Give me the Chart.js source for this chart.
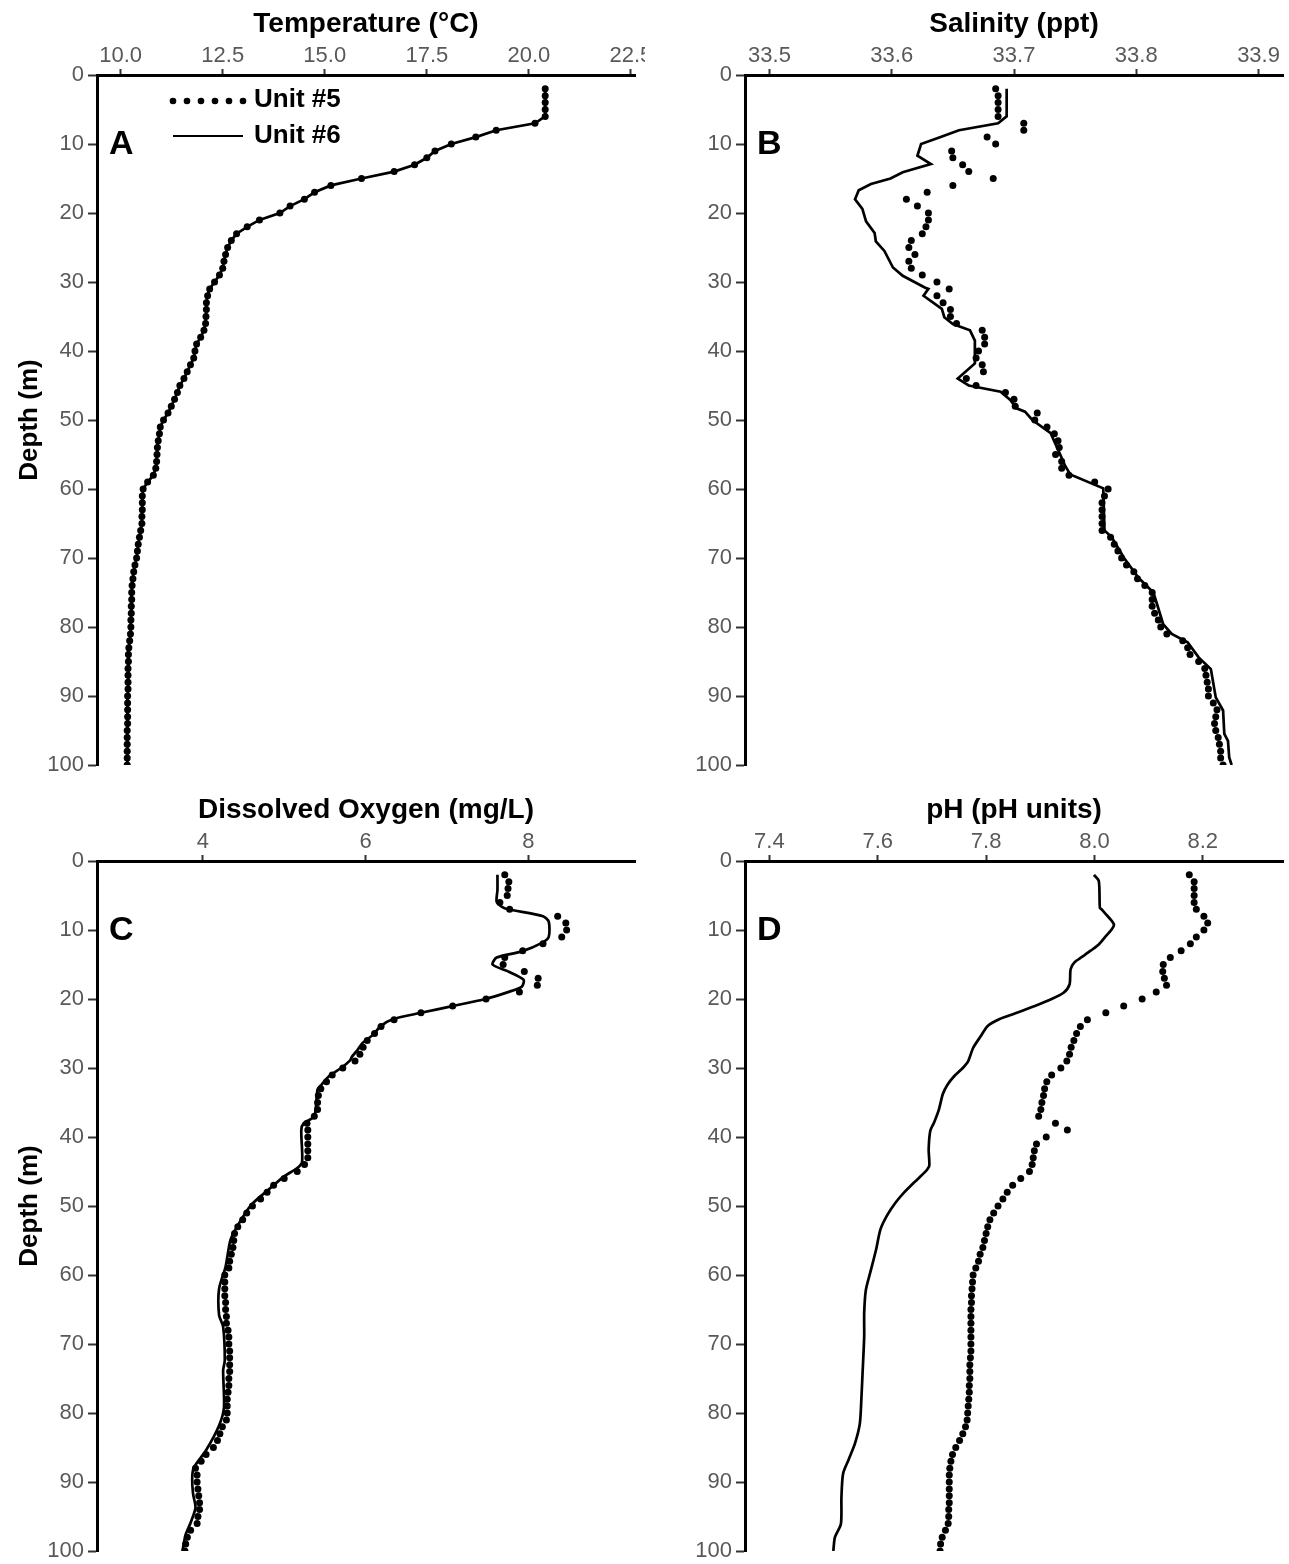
<!DOCTYPE html>
<html lang="en">
<head>
  <meta charset="UTF-8">
  <title>Depth profiles - Unit #5 vs Unit #6</title>
  <script src="https://cdn.jsdelivr.net/npm/chart.js"></script>
  <style>
    body { margin: 0; background: #fff; }
    #wrap { position: relative; width: 1289px; height: 1564px; }
    canvas { position: absolute; }
  </style>
</head>
<body>
  <div id="wrap">
    <canvas id="chartA" width="645" height="775" style="left:0;top:0"></canvas>
    <canvas id="chartB" width="644" height="775" style="left:645px;top:0"></canvas>
    <canvas id="chartC" width="645" height="775" style="left:0;top:786px"></canvas>
    <canvas id="chartD" width="644" height="775" style="left:645px;top:786px"></canvas>
  </div>

  <script>
    const seriesNames = ['Unit #5', 'Unit #6'];
    const depthTicks = [0, 10, 20, 30, 40, 50, 60, 70, 80, 90, 100];

    // Unit #5 samples every metre, 2..100 m
    const depths = [2, 3, 4, 5, 6, 7, 8, 9, 10, 11, 12, 13, 14, 15, 16, 17, 18, 19, 20, 21,
      22, 23, 24, 25, 26, 27, 28, 29, 30, 31, 32, 33, 34, 35, 36, 37, 38, 39, 40, 41,
      42, 43, 44, 45, 46, 47, 48, 49, 50, 51, 52, 53, 54, 55, 56, 57, 58, 59, 60, 61,
      62, 63, 64, 65, 66, 67, 68, 69, 70, 71, 72, 73, 74, 75, 76, 77, 78, 79, 80, 81,
      82, 83, 84, 85, 86, 87, 88, 89, 90, 91, 92, 93, 94, 95, 96, 97, 98, 99, 100];

    // A - temperature
    const tempTicks = [10, 12.5, 15, 17.5, 20, 22.5];
    const tempUnit5 = [20.4, 20.4, 20.4, 20.4, 20.4,
      20.15, 19.2, 18.7, 18.1, 17.7, 17.5, 17.2, 16.7,
      15.9, 15.15, 14.75, 14.5, 14.15, 13.9, 13.4, 13.1,
      12.84, 12.71, 12.62, 12.57, 12.53, 12.5, 12.42, 12.3,
      12.18, 12.13, 12.1, 12.1, 12.09, 12.08, 12.04, 11.96, 11.86, 11.82,
      11.79, 11.71, 11.63, 11.55, 11.45, 11.39, 11.32, 11.24, 11.16, 11.05,
      10.97, 10.95, 10.92, 10.9, 10.89, 10.88, 10.86, 10.8, 10.66, 10.55,
      10.53, 10.53, 10.53, 10.52, 10.52, 10.49, 10.46, 10.43, 10.41, 10.39,
      10.35, 10.32, 10.3, 10.28, 10.27, 10.27, 10.26, 10.26, 10.25, 10.25,
      10.24, 10.22, 10.2, 10.19, 10.19, 10.18, 10.18, 10.18, 10.18, 10.17,
      10.17, 10.17, 10.17, 10.17, 10.16, 10.16, 10.16, 10.16, 10.16, 10.16];
    // the two temperature traces lie on top of each other
    const tempDepth6 = depths;
    const tempUnit6 = tempUnit5;

    // B - salinity
    const salTicks = [33.5, 33.6, 33.7, 33.8, 33.9];
    const salUnit5 = [33.685, 33.687, 33.687, 33.687, 33.687,
      33.708, 33.708, 33.678, 33.685, 33.649, 33.650, 33.658, 33.663,
      33.683, 33.650, 33.629, 33.612, 33.621, 33.630, 33.630, 33.628,
      33.625, 33.616, 33.614, 33.619, 33.614, 33.616, 33.625, 33.637,
      33.647, 33.637, 33.642, 33.648, 33.648, 33.653, 33.674, 33.676, 33.676, 33.671,
      33.669, 33.674, 33.675, 33.661, 33.669, 33.693, 33.700, 33.701, 33.719, 33.717,
      33.727, 33.733, 33.736, 33.737, 33.734, 33.739, 33.739, 33.745, 33.766, 33.777,
      33.774, 33.772, 33.772, 33.772, 33.772, 33.772, 33.779, 33.782, 33.785, 33.788,
      33.792, 33.798, 33.801, 33.807, 33.813, 33.813, 33.813, 33.815, 33.818, 33.820,
      33.825, 33.838, 33.842, 33.844, 33.851, 33.856, 33.857, 33.858, 33.859, 33.859,
      33.863, 33.866, 33.865, 33.864, 33.865, 33.867, 33.868, 33.869, 33.869, 33.871];
    const salDepth6 = [2, 6, 7, 8, 9, 10, 11.7, 12.9, 14.1, 15, 15.8, 16.7, 18, 19.4, 21.2,
      22.9, 24.1, 25.5, 27.9, 29.1, 30.8, 31, 32, 33.9, 35.1, 36.1, 37, 38.5, 41.8, 44,
      45, 45.9, 47.1, 48.3, 48.8, 50, 51.9, 53.9, 56.7, 57.9, 59.9, 66, 67, 70, 72.9,
      75, 76.7, 79.6, 81, 82.2, 84.4, 86.1, 90.2, 92.1, 95.5, 96.5, 98.9, 100];
    const salUnit6 = [33.694, 33.694, 33.687, 33.655, 33.640, 33.624, 33.621, 33.632, 33.609, 33.599,
      33.583, 33.573, 33.570, 33.576, 33.579, 33.586, 33.587, 33.594, 33.601, 33.609,
      33.627, 33.630, 33.626, 33.641, 33.643, 33.650, 33.664, 33.668, 33.668, 33.654,
      33.663, 33.689, 33.697, 33.702, 33.709, 33.715, 33.730, 33.735, 33.742, 33.746,
      33.773, 33.774, 33.780, 33.790, 33.802, 33.814, 33.817, 33.822, 33.829, 33.842,
      33.851, 33.861, 33.865, 33.871, 33.872, 33.875, 33.876, 33.878];

    // C - dissolved oxygen
    const oxyTicks = [4, 6, 8];
    const oxyUnit5 = [7.71, 7.76, 7.75, 7.74, 7.65,
      7.77, 8.36, 8.46, 8.47, 8.41, 8.18, 7.93, 7.71,
      7.69, 7.95, 8.12, 8.11, 7.89, 7.48, 7.07, 6.68,
      6.35, 6.19, 6.11, 6.02, 5.97, 5.93, 5.87, 5.72,
      5.59, 5.52, 5.45, 5.42, 5.41, 5.41, 5.37, 5.28, 5.29, 5.29,
      5.29, 5.29, 5.29, 5.25, 5.16, 5.00, 4.87, 4.79, 4.71, 4.61,
      4.54, 4.49, 4.43, 4.39, 4.38, 4.37, 4.35, 4.33, 4.32, 4.27,
      4.27, 4.27, 4.27, 4.28, 4.28, 4.29, 4.29, 4.31, 4.32, 4.32,
      4.33, 4.33, 4.33, 4.33, 4.32, 4.32, 4.31, 4.30, 4.30, 4.30,
      4.29, 4.24, 4.21, 4.18, 4.13, 4.04, 3.98, 3.91, 3.93, 3.93,
      3.94, 3.95, 3.96, 3.96, 3.94, 3.93, 3.85, 3.81, 3.79, 3.78];
    const oxyDepth6 = [2, 4.2, 5.9, 6.6, 7, 8, 8.8, 11, 11.9, 13.1, 14, 15, 16, 17.2, 18.2,
      19, 20, 21, 22, 22.9, 23.9, 25.2, 26.4, 27.4, 28.4, 28.9, 30, 31.2, 32.4, 33.1,
      37, 38, 39, 43.6, 44.5, 45.7, 47.8, 49.9, 52.8, 54.9, 58.8, 62, 65.8, 67.5, 72.4,
      73.8, 79.2, 81.8, 85.4, 87.9, 89.3, 91.7, 93.7, 95.9, 97.6, 100];
    const oxyUnit6 = [7.62, 7.62, 7.61, 7.67, 7.75, 8.18, 8.25, 8.25, 8.16, 7.92, 7.61, 7.56, 7.75, 7.94, 7.92,
      7.75, 7.47, 7.08, 6.68, 6.34, 6.19, 6.09, 5.96, 5.90, 5.83, 5.81, 5.70, 5.55, 5.46, 5.41,
      5.37, 5.24, 5.21, 5.22, 5.16, 5.00, 4.79, 4.59, 4.43, 4.34, 4.28, 4.20, 4.20, 4.25, 4.27,
      4.25, 4.26, 4.20, 4.04, 3.89, 3.87, 3.88, 3.91, 3.85, 3.79, 3.75];

    // D - pH
    const phTicks = [7.4, 7.6, 7.8, 8.0, 8.2];
    const phUnit5 = [8.175, 8.184, 8.184, 8.184, 8.184,
      8.188, 8.202, 8.209, 8.202, 8.188, 8.177, 8.160, 8.140,
      8.127, 8.126, 8.129, 8.133, 8.114, 8.088, 8.054, 8.021,
      7.987, 7.974, 7.967, 7.962, 7.957, 7.954, 7.949, 7.938,
      7.921, 7.912, 7.908, 7.906, 7.903, 7.901, 7.897, 7.928, 7.950, 7.911,
      7.893, 7.889, 7.887, 7.885, 7.880, 7.864, 7.849, 7.839, 7.831, 7.822,
      7.814, 7.807, 7.803, 7.800, 7.797, 7.794, 7.789, 7.786, 7.781, 7.776,
      7.775, 7.774, 7.773, 7.773, 7.772, 7.772, 7.772, 7.772, 7.772, 7.772,
      7.772, 7.771, 7.770, 7.770, 7.770, 7.769, 7.769, 7.768, 7.767, 7.766,
      7.765, 7.762, 7.757, 7.751, 7.744, 7.738, 7.735, 7.733, 7.732, 7.732,
      7.732, 7.732, 7.732, 7.731, 7.731, 7.730, 7.725, 7.719, 7.716, 7.715];
    const phDepth6 = [2, 2.9, 6.8, 7, 7.7, 8.5, 9.2, 9.9, 10.9, 12.1, 13, 13.9, 14.7, 15.7, 17.9,
      19.1, 20, 21, 22.1, 22.9, 23.9, 25.4, 27.1, 29, 30, 31.2, 32.4, 33.8, 36, 37.9,
      39.1, 41.8, 44.2, 45.1, 46.6, 48.1, 49.5, 51.4, 53.4, 56.3, 59.7, 62.2, 65.5, 68.9,
      74.2, 77.6, 81.5, 84.4, 86.8, 88.8, 92.2, 96.1, 98, 100];
    const phUnit6 = [7.999, 8.008, 8.010, 8.013, 8.021, 8.030, 8.036, 8.032, 8.021, 8.008, 7.993, 7.977, 7.963, 7.956, 7.954,
      7.943, 7.921, 7.890, 7.853, 7.825, 7.803, 7.790, 7.776, 7.767, 7.757, 7.741, 7.729, 7.720, 7.713, 7.704,
      7.697, 7.694, 7.695, 7.687, 7.667, 7.648, 7.633, 7.617, 7.605, 7.597, 7.586, 7.578, 7.575, 7.575,
      7.572, 7.570, 7.567, 7.558, 7.546, 7.536, 7.533, 7.532, 7.521, 7.518];

    const FONT = '"Liberation Sans", Arial, sans-serif';
    const tickFont = { family: FONT, size: 22 };
    const xTitleFont = { family: FONT, size: 28, weight: 'bold' };
    const yTitleFont = { family: FONT, size: 26, weight: 'bold' };
    const tickGray = '#595959';

    const toPoints = (ds, vs) => ds.map((d, i) => ({ x: vs[i], y: d }));

    // panel letter + legend (panel A only)
    const panelMarks = {
      id: 'panelMarks',
      afterDraw(chart, args, opts) {
        const { ctx, chartArea } = chart;
        const L = chartArea.left, T = chartArea.top;
        ctx.save();
        ctx.fillStyle = '#000';
        ctx.strokeStyle = '#000';
        ctx.textBaseline = 'middle';
        ctx.font = 'bold 34px ' + FONT;
        ctx.fillText(opts.letter, L + 12, T + 70);
        if (opts.legend) {
          for (let i = 0; i < 6; i++) {
            ctx.beginPath();
            ctx.arc(L + 76 + i * 14, T + 26, 3.3, 0, Math.PI * 2);
            ctx.fill();
          }
          ctx.lineWidth = 2;
          ctx.beginPath();
          ctx.moveTo(L + 76, T + 61);
          ctx.lineTo(L + 146, T + 61);
          ctx.stroke();
          ctx.font = 'bold 26px ' + FONT;
          ctx.fillText(seriesNames[0], L + 157, T + 25);
          ctx.fillText(seriesNames[1], L + 157, T + 61);
        }
        ctx.restore();
      }
    };

    function makePanel(id, p) {
      return new Chart(document.getElementById(id), {
        type: 'scatter',
        data: {
          datasets: [
            {
              label: seriesNames[0],
              data: toPoints(depths, p.unit5),
              showLine: false,
              pointRadius: 3.5,
              pointBackgroundColor: '#000',
              pointBorderWidth: 0
            },
            {
              label: seriesNames[1],
              data: toPoints(p.depth6, p.unit6),
              showLine: true,
              borderColor: '#000',
              borderWidth: 2.7,
              pointRadius: 0,
              tension: p.tension
            }
          ]
        },
        options: {
          responsive: false,
          animation: false,
          events: [],
          layout: { padding: { left: 0, top: 0, right: p.padRight, bottom: 10 } },
          plugins: {
            legend: { display: false },
            tooltip: { enabled: false },
            panelMarks: { letter: p.letter, legend: p.legend }
          },
          scales: {
            x: {
              type: 'linear',
              position: 'top',
              min: p.xMin,
              max: p.xMax,
              afterBuildTicks: ax => { ax.ticks = p.xTicks.map(v => ({ value: v })); },
              ticks: {
                color: tickGray,
                font: tickFont,
                padding: 0,
                maxRotation: 0,
                autoSkip: false,
                callback: v => Number(v).toFixed(p.decimals)
              },
              grid: { drawOnChartArea: false, drawTicks: true, tickLength: 6, tickWidth: 2, tickColor: '#333' },
              border: { display: true, color: '#000', width: 3 },
              title: { display: true, text: p.title, color: '#000', font: xTitleFont, padding: { top: 7, bottom: 0 } },
              afterFit: s => { s.height = 75; s.paddingLeft = 0; s.paddingRight = 0; }
            },
            y: {
              type: 'linear',
              reverse: true,
              min: 0,
              max: 100,
              afterBuildTicks: ax => { ax.ticks = depthTicks.map(v => ({ value: v })); },
              ticks: { color: tickGray, font: tickFont, padding: 4 },
              grid: { drawOnChartArea: false, drawTicks: true, tickLength: 9, tickWidth: 2, tickColor: '#333' },
              border: { display: true, color: '#000', width: 3 },
              title: { display: p.depthTitle, text: 'Depth (m)', color: '#000', font: yTitleFont, padding: { top: 14, bottom: 0 } },
              afterFit: s => { s.width = p.yWidth; s.paddingTop = 0; s.paddingBottom = 0; }
            }
          }
        },
        plugins: [panelMarks]
      });
    }

    makePanel('chartA', {
      title: 'Temperature (°C)', xMin: 9.42, xMax: 22.6, xTicks: tempTicks, decimals: 1,
      unit5: tempUnit5, depth6: tempDepth6, unit6: tempUnit6, tension: 0,
      letter: 'A', legend: true, depthTitle: true, yWidth: 97, padRight: 10
    });
    makePanel('chartB', {
      title: 'Salinity (ppt)', xMin: 33.48, xMax: 33.92, xTicks: salTicks, decimals: 1,
      unit5: salUnit5, depth6: salDepth6, unit6: salUnit6, tension: 0,
      letter: 'B', legend: false, depthTitle: false, yWidth: 100, padRight: 6
    });
    makePanel('chartC', {
      title: 'Dissolved Oxygen (mg/L)', xMin: 2.70, xMax: 9.31, xTicks: oxyTicks, decimals: 0,
      unit5: oxyUnit5, depth6: oxyDepth6, unit6: oxyUnit6, tension: 0.25,
      letter: 'C', legend: false, depthTitle: true, yWidth: 97, padRight: 10
    });
    makePanel('chartD', {
      title: 'pH (pH units)', xMin: 7.355, xMax: 8.348, xTicks: phTicks, decimals: 1,
      unit5: phUnit5, depth6: phDepth6, unit6: phUnit6, tension: 0.25,
      letter: 'D', legend: false, depthTitle: false, yWidth: 100, padRight: 6
    });
  </script>
</body>
</html>
